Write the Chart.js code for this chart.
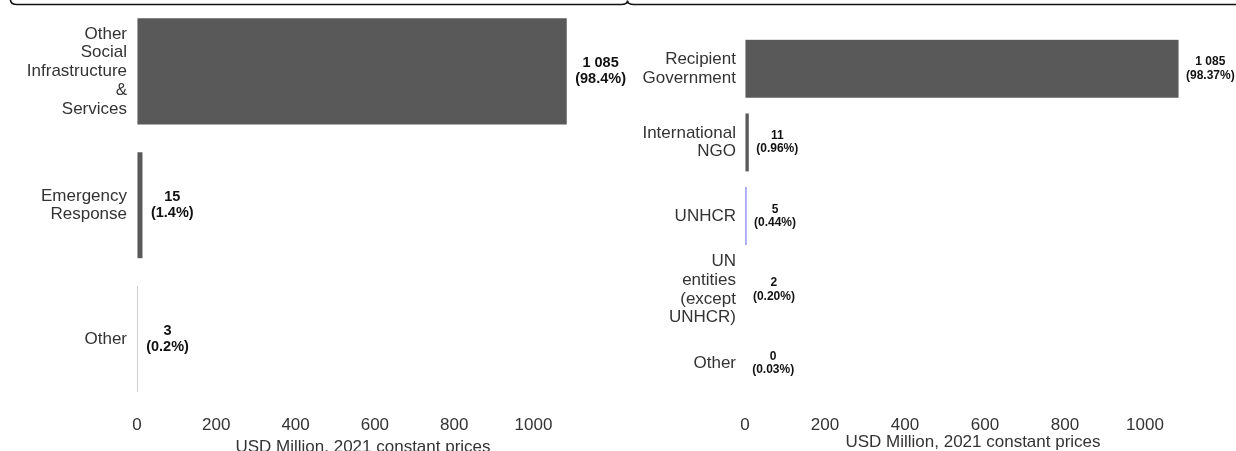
<!DOCTYPE html>
<html><head><meta charset="utf-8">
<script src="https://cdn.jsdelivr.net/npm/chart.js@4/dist/chart.umd.min.js"></script>
<style>
html,body{margin:0;padding:0;background:#fff;overflow:hidden;width:1236px;height:451px}
#brace{position:absolute;left:0;top:0}
#w1{position:absolute;left:0;top:0;width:636px;height:451px}
#w2{position:absolute;left:636px;top:0;width:600px;height:451px}
</style></head><body>
<div id="w1"><canvas id="c1" width="636" height="451"></canvas></div>
<div id="w2"><canvas id="c2" width="600" height="451"></canvas></div>
<svg id="brace" width="1236" height="12"><path d="M10.5,0 Q10.5,4.5 17,4.5 L621,4.5 Q627.5,4.5 627.5,0.5 Q627.5,4.5 634,4.5 L1236,4.5" fill="none" stroke="#111" stroke-width="1.6"/></svg>
<script>
const sectorLabels = [["Other","Social","Infrastructure","&","Services"],["Emergency","Response"],["Other"]];
const sectorValues = [1085, 15, 3];
const sectorShares = ["98.4%","1.4%","0.2%"];
const channelLabels = [["Recipient","Government"],["International","NGO"],["UNHCR"],["UN","entities","(except","UNHCR)"],["Other"]];
const channelValues = [1085, 10.6, 4.9, 2.2, 0.33];
const channelShares = ["98.37%","0.96%","0.44%","0.20%","0.03%"];
const xTicks = [0, 200, 400, 600, 800, 1000];
const xMax = 1140;
const axisTitle = "USD Million, 2021 constant prices";

const FONT = "'Liberation Sans', Arial, Helvetica, sans-serif";
const GREY = '#595959';
const HIGHLIGHT = '#6a6aee';

function fmt(v){ return String(Math.round(v)).replace(/\B(?=(\d{3})+(?!\d))/g, ' '); }

function labelPlugin(shares, fontSize, lineH, gap){
  return {
    id: 'barLabels',
    afterDatasetsDraw(chart){
      const ctx = chart.ctx;
      const meta = chart.getDatasetMeta(0);
      const vals = chart.data.datasets[0].data;
      ctx.save();
      ctx.font = 'bold ' + fontSize + 'px ' + FONT;
      ctx.fillStyle = '#111';
      ctx.textAlign = 'center';
      ctx.textBaseline = 'middle';
      meta.data.forEach((bar, i) => {
        const lines = [fmt(vals[i]), '(' + shares[i] + ')'];
        const w = Math.max(...lines.map(l => ctx.measureText(l).width));
        const cx = bar.x + gap + w / 2;
        const y0 = bar.y - lineH / 2;
        lines.forEach((l, k) => ctx.fillText(l, cx, y0 + k * lineH));
      });
      ctx.restore();
    }
  };
}

function makeChart(id, labels, values, colors, shares, o){
  return new Chart(document.getElementById(id), {
    type: 'bar',
    data: { labels: labels, datasets: [{ data: values, backgroundColor: colors,
      borderWidth: 0.45, borderColor: '#ffffff', borderSkipped: false, inflateAmount: 0,
      categoryPercentage: 0.8, barPercentage: 1.0 }] },
    options: {
      indexAxis: 'y', responsive: false, animation: false,
      layout: { padding: { top: o.top, right: o.right, left: 0, bottom: 0 } },
      plugins: { legend: { display: false }, tooltip: { enabled: false } },
      scales: {
        y: {
          grid: { display: false, drawTicks: false }, border: { display: false },
          ticks: { autoSkip: false, color: '#333', padding: o.ypad,
            font: { family: FONT, size: 17, lineHeight: 1.1 } },
          afterFit(s){ s.width = o.yw; s.paddingTop = 0; s.paddingBottom = 0; }
        },
        x: {
          min: 0, max: xMax,
          grid: { display: false, drawTicks: false }, border: { display: false },
          ticks: { color: '#333', padding: o.xpad, includeBounds: false, maxRotation: 0,
            font: { family: FONT, size: 17 }, callback: v => String(v) },
          afterBuildTicks(s){ s.ticks = xTicks.map(v => ({ value: v })); },
          title: { display: true, text: axisTitle, color: '#333',
            font: { family: FONT, size: 17 }, padding: { top: 0, bottom: o.tpad } },
          afterFit(s){ s.height = o.xh; }
        }
      }
    },
    plugins: [labelPlugin(shares, o.lfs, o.llh, o.gap)]
  });
}

makeChart('c1', sectorLabels, sectorValues, sectorValues.map(() => GREY), sectorShares,
  { top: 4.5, right: 47, yw: 137, ypad: 10, xpad: 9, xh: 45, tpad: -7, lfs: 14.5, llh: 16, gap: 8 });
makeChart('c2', channelLabels, channelValues,
  channelLabels.map(l => l.join(' ') === 'UNHCR' ? HIGHLIGHT : GREY), channelShares,
  { top: 32, right: 35, yw: 109, ypad: 9, xpad: 15, xh: 51, tpad: -2, lfs: 12, llh: 13.5, gap: 7 });
</script>
</body></html>
